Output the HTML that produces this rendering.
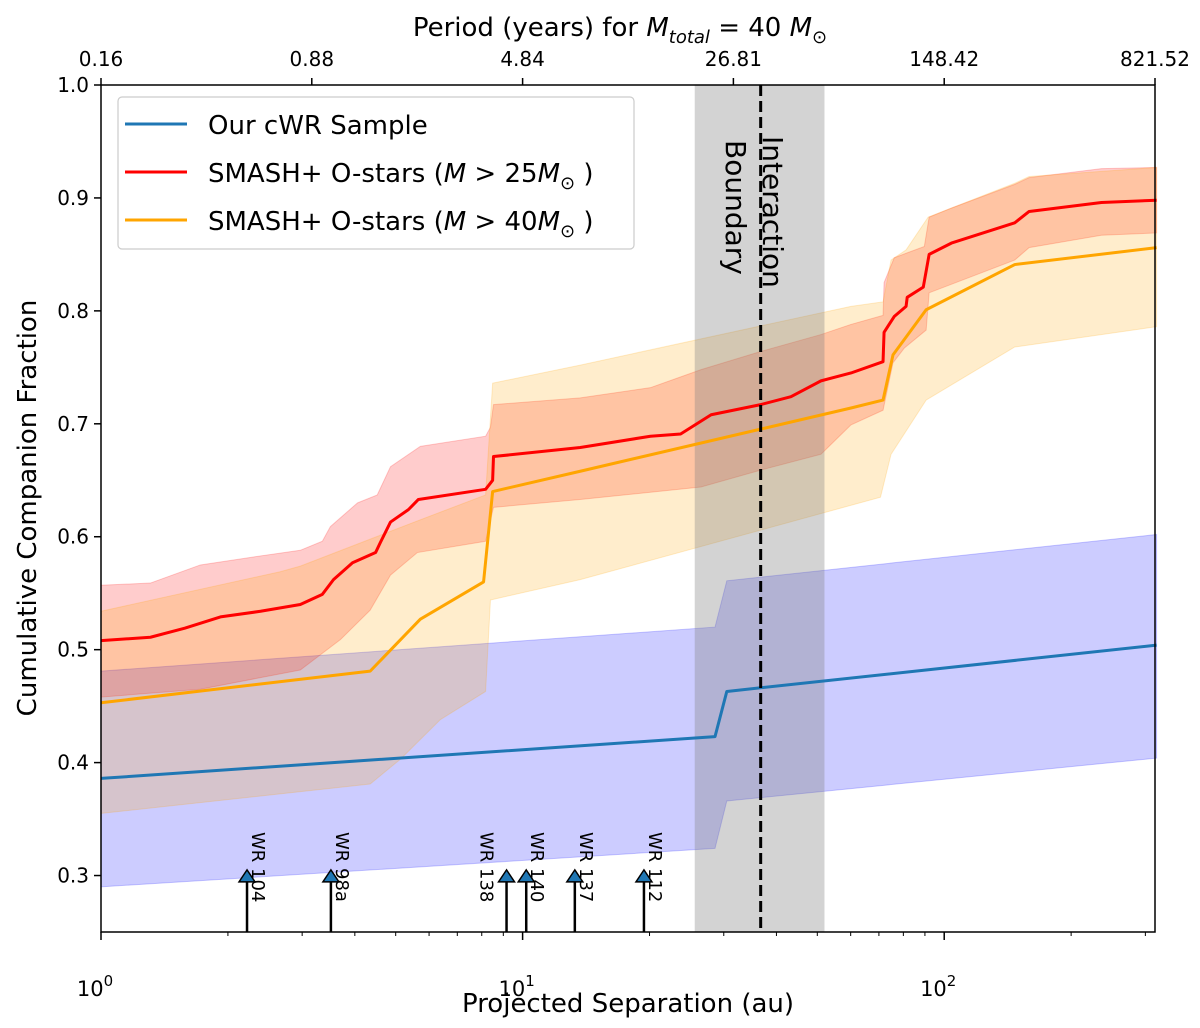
<!DOCTYPE html>
<html><head><meta charset="utf-8"><style>
html,body{margin:0;padding:0;background:#fff;}
svg{display:block;font-family:"DejaVu Sans","Liberation Sans",sans-serif;}
</style></head><body>
<svg id="chart" width="1200" height="1028" viewBox="0 0 1200 1028" xmlns="http://www.w3.org/2000/svg">
<g id="fills"></g>
<rect id="band" fill="rgb(128,128,128)" fill-opacity="0.35"></rect>
<g id="lines"></g>
<line id="bline" stroke="#000" stroke-width="3" stroke-dasharray="11,5"></line>
<text font-size="28" transform="translate(763,136) rotate(90)"><tspan x="0" y="0">Interaction</tspan><tspan x="4" y="37">Boundary</tspan></text>
<g id="arrows"></g>
<g id="axes"></g>
<g>
<rect x="118" y="97" width="516" height="152" rx="4" fill="#fff" fill-opacity="0.8" stroke="#ccc" stroke-width="1.2"></rect>
<line x1="125" y1="124" x2="187" y2="124" stroke="#1f77b4" stroke-width="3"></line>
<text x="208" y="134" font-size="26">Our cWR Sample</text>
<line x1="125" y1="172" x2="187" y2="172" stroke="red" stroke-width="3"></line>
<text x="208" y="182" font-size="26">SMASH+ O-stars (<tspan font-style="italic">M</tspan> &gt; 25<tspan font-style="italic">M</tspan><tspan font-size="18" dy="7">⊙</tspan><tspan dy="-7"> )</tspan></text>
<line x1="125" y1="220" x2="187" y2="220" stroke="orange" stroke-width="3"></line>
<text x="208" y="230" font-size="26">SMASH+ O-stars (<tspan font-style="italic">M</tspan> &gt; 40<tspan font-style="italic">M</tspan><tspan font-size="18" dy="7">⊙</tspan><tspan dy="-7"> )</tspan></text>
</g>
<text x="620" y="36" font-size="26" text-anchor="middle">Period (years) for <tspan font-style="italic">M</tspan><tspan font-style="italic" font-size="18" dy="7">total</tspan><tspan dy="-7"> = 40 </tspan><tspan font-style="italic">M</tspan><tspan font-size="18" dy="7">⊙</tspan></text>
<text x="628" y="1012" font-size="26" text-anchor="middle">Projected Separation (au)</text>
<text font-size="26" text-anchor="middle" transform="translate(36,508) rotate(-90)">Cumulative Companion Fraction</text>
</svg>
<script>
const blueX=[1,28.6,30.5,319];
const blueY=[0.386,0.423,0.463,0.504];
const blueUp=[0.481,0.520,0.561,0.602];
const blueLo=[0.290,0.324,0.366,0.404];
const redX=[1,1.31,1.58,1.92,2.39,2.97,3.35,3.56,3.95,4.48,4.60,4.86,5.36,5.66,8.17,8.49,8.53,13.7,20.1,23.7,28.0,36.7,43.3,51.0,60.1,71.6,72.0,76.1,81.2,81.7,89.2,92.1,104,147,159,236,319];
const redY=[0.508,0.511,0.519,0.529,0.534,0.540,0.549,0.562,0.577,0.586,0.595,0.613,0.624,0.633,0.642,0.650,0.671,0.679,0.689,0.691,0.708,0.717,0.724,0.738,0.745,0.755,0.781,0.795,0.804,0.812,0.821,0.850,0.860,0.878,0.888,0.896,0.898];
const redUpX=[1,1.31,1.72,2.39,2.97,3.35,3.50,4.06,4.52,4.86,5.72,8.17,8.39,8.53,13.7,20.1,26.5,36.7,51.0,60.1,71.6,72.0,76.1,81.2,89.7,92.1,104,147,159,236,319];
const redUpY=[0.557,0.559,0.575,0.583,0.588,0.596,0.609,0.630,0.637,0.662,0.680,0.689,0.697,0.717,0.723,0.732,0.748,0.764,0.779,0.788,0.796,0.825,0.847,0.851,0.857,0.883,0.891,0.912,0.918,0.926,0.927];
const redLoX=[1,1.72,2.97,3.70,4.35,4.86,5.63,8.17,8.53,13.7,26.5,36.7,51.0,60.1,71.6,75.6,80.4,90.6,92.1,147,159,236,319];
const redLoY=[0.458,0.465,0.482,0.509,0.535,0.566,0.586,0.596,0.626,0.633,0.644,0.659,0.673,0.699,0.712,0.754,0.767,0.783,0.816,0.845,0.856,0.867,0.869];
const orX=[1,4.35,5.72,8.08,8.49,13.7,60.1,71.6,75.6,90.6,147,319];
const orY=[0.453,0.481,0.527,0.560,0.640,0.658,0.714,0.721,0.761,0.801,0.841,0.856];
const orUpX=[1,2.66,2.97,5.72,8.17,8.49,13.7,60.1,71.6,74.8,81.2,91.6,147,159,319];
const orUpY=[0.534,0.569,0.574,0.615,0.637,0.736,0.752,0.804,0.808,0.845,0.854,0.883,0.913,0.919,0.927];
const orLoX=[1,4.35,5.13,6.38,8.17,8.39,13.7,70.6,74.8,90.6,147,319];
const orLoY=[0.355,0.381,0.403,0.438,0.463,0.544,0.562,0.635,0.673,0.721,0.768,0.786];
const wrNames=["WR 104","WR 98a","WR 138","WR 140","WR 137","WR 112"];
const wrSep=[2.22,3.51,9.16,10.2,13.3,19.4];
const wrTip=0.305;
const boundaryLo=25.6, boundaryHi=52, boundaryLine=36.7;
const yTicks=[0.3,0.4,0.5,0.6,0.7,0.8,0.9,1.0];
const topTickLabels=["0.16","0.88","4.84","26.81","148.42","821.52"];
const topTickPos=[1,3.162,10,31.62,100,316.2];
const xMin=1,xMax=316.2,yMin=0.25,yMax=1.0;
const L=101,R=1155,T=85,B=932;
const NS="http://www.w3.org/2000/svg";
function sx(v){return L+(Math.log10(v)-Math.log10(xMin))/(Math.log10(xMax)-Math.log10(xMin))*(R-L);}
function sy(v){return B-(v-yMin)/(yMax-yMin)*(B-T);}
function mk(tag,attrs,parent){const e=document.createElementNS(NS,tag);for(const k in attrs)e.setAttribute(k,attrs[k]);parent.appendChild(e);return e;}
const fills=document.getElementById('fills'),lines=document.getElementById('lines'),axes=document.getElementById('axes'),arrows=document.getElementById('arrows');
function band(ux,uy,lx,ly,col,name){
  let pts=ux.map((x,i)=>sx(x)+','+sy(uy[i]));
  for(let i=lx.length-1;i>=0;i--)pts.push(sx(lx[i])+','+sy(ly[i]));
  const p=mk('polygon',{points:pts.join(' '),fill:col,'fill-opacity':0.2,stroke:col,'stroke-opacity':0.2},fills);
  
  
}
function line(xs,ys,col,name){
  const p=mk('polyline',{points:xs.map((x,i)=>sx(x)+','+sy(ys[i])).join(' '),fill:'none',stroke:col,'stroke-width':3,'stroke-linejoin':'round'},lines);
  
  
}
band(blueX,blueUp,blueX,blueLo,'blue','cwr-band');
band(redUpX,redUpY,redLoX,redLoY,'red','smash25-band');
band(orUpX,orUpY,orLoX,orLoY,'orange','smash40-band');
const bd=document.getElementById('band');
bd.setAttribute('x',sx(boundaryLo));bd.setAttribute('width',sx(boundaryHi)-sx(boundaryLo));bd.setAttribute('y',T);bd.setAttribute('height',B-T);
const bl=document.getElementById('bline');
bl.setAttribute('x1',sx(boundaryLine));bl.setAttribute('x2',sx(boundaryLine));bl.setAttribute('y1',T);bl.setAttribute('y2',B);
line(blueX,blueY,'#1f77b4','cwr-line');
line(redX,redY,'red','smash25-line');
line(orX,orY,'orange','smash40-line');
wrNames.forEach((n,i)=>{
  const x=sx(wrSep[i]),ty=sy(wrTip);
  const s=mk('line',{x1:x,x2:x,y1:B,y2:ty+8,stroke:'#000','stroke-width':2.5},arrows);
  
  
  const t=mk('polygon',{points:`${x},${ty} ${x-8},${ty+12} ${x+8},${ty+12}`,fill:'#1f77b4',stroke:'#000','stroke-width':1.5},arrows);
  
  
  const left=(n==="WR 138");
  const lx=left?x-26:x+5;
  const tx=mk('text',{'font-size':18,transform:`translate(${lx},832) rotate(90)`},arrows);
  tx.textContent=n;
  
  
});
const fr=mk('rect',{x:L,y:T,width:R-L,height:B-T,fill:'none',stroke:'#000','stroke-width':1.5},axes);


yTicks.forEach(v=>{
  const y=sy(v);
  mk('line',{x1:L-7,x2:L,y1:y,y2:y,stroke:'#000','stroke-width':1.5},axes);
  const t=mk('text',{x:L-12,y:y+7,'font-size':20,'text-anchor':'end'},axes);
  t.textContent=v.toFixed(1);
  
  
});
[1,10,100].forEach((v,i)=>{
  const x=sx(v);
  mk('line',{x1:x,x2:x,y1:B,y2:B+8,stroke:'#000','stroke-width':1.5},axes);
  const t=mk('text',{x:x-6,y:B+64,'font-size':21,'text-anchor':'middle'},axes);
  t.innerHTML='10<tspan font-size="15" dy="-10">'+i+'</tspan>';
  
  
  for(let m=2;m<10;m++){const mv=v*m;if(mv<=xMax){const mx=sx(mv);mk('line',{x1:mx,x2:mx,y1:B,y2:B+4,stroke:'#000','stroke-width':1},axes);}}
});
topTickLabels.forEach((lab,i)=>{
  const x=sx(topTickPos[i]);
  mk('line',{x1:x,x2:x,y1:T,y2:T-7,stroke:'#000','stroke-width':1.5},axes);
  const t=mk('text',{x:x,y:T-19,'font-size':20,'text-anchor':'middle'},axes);
  t.textContent=lab;
  
  
});
</script>
</body></html>
